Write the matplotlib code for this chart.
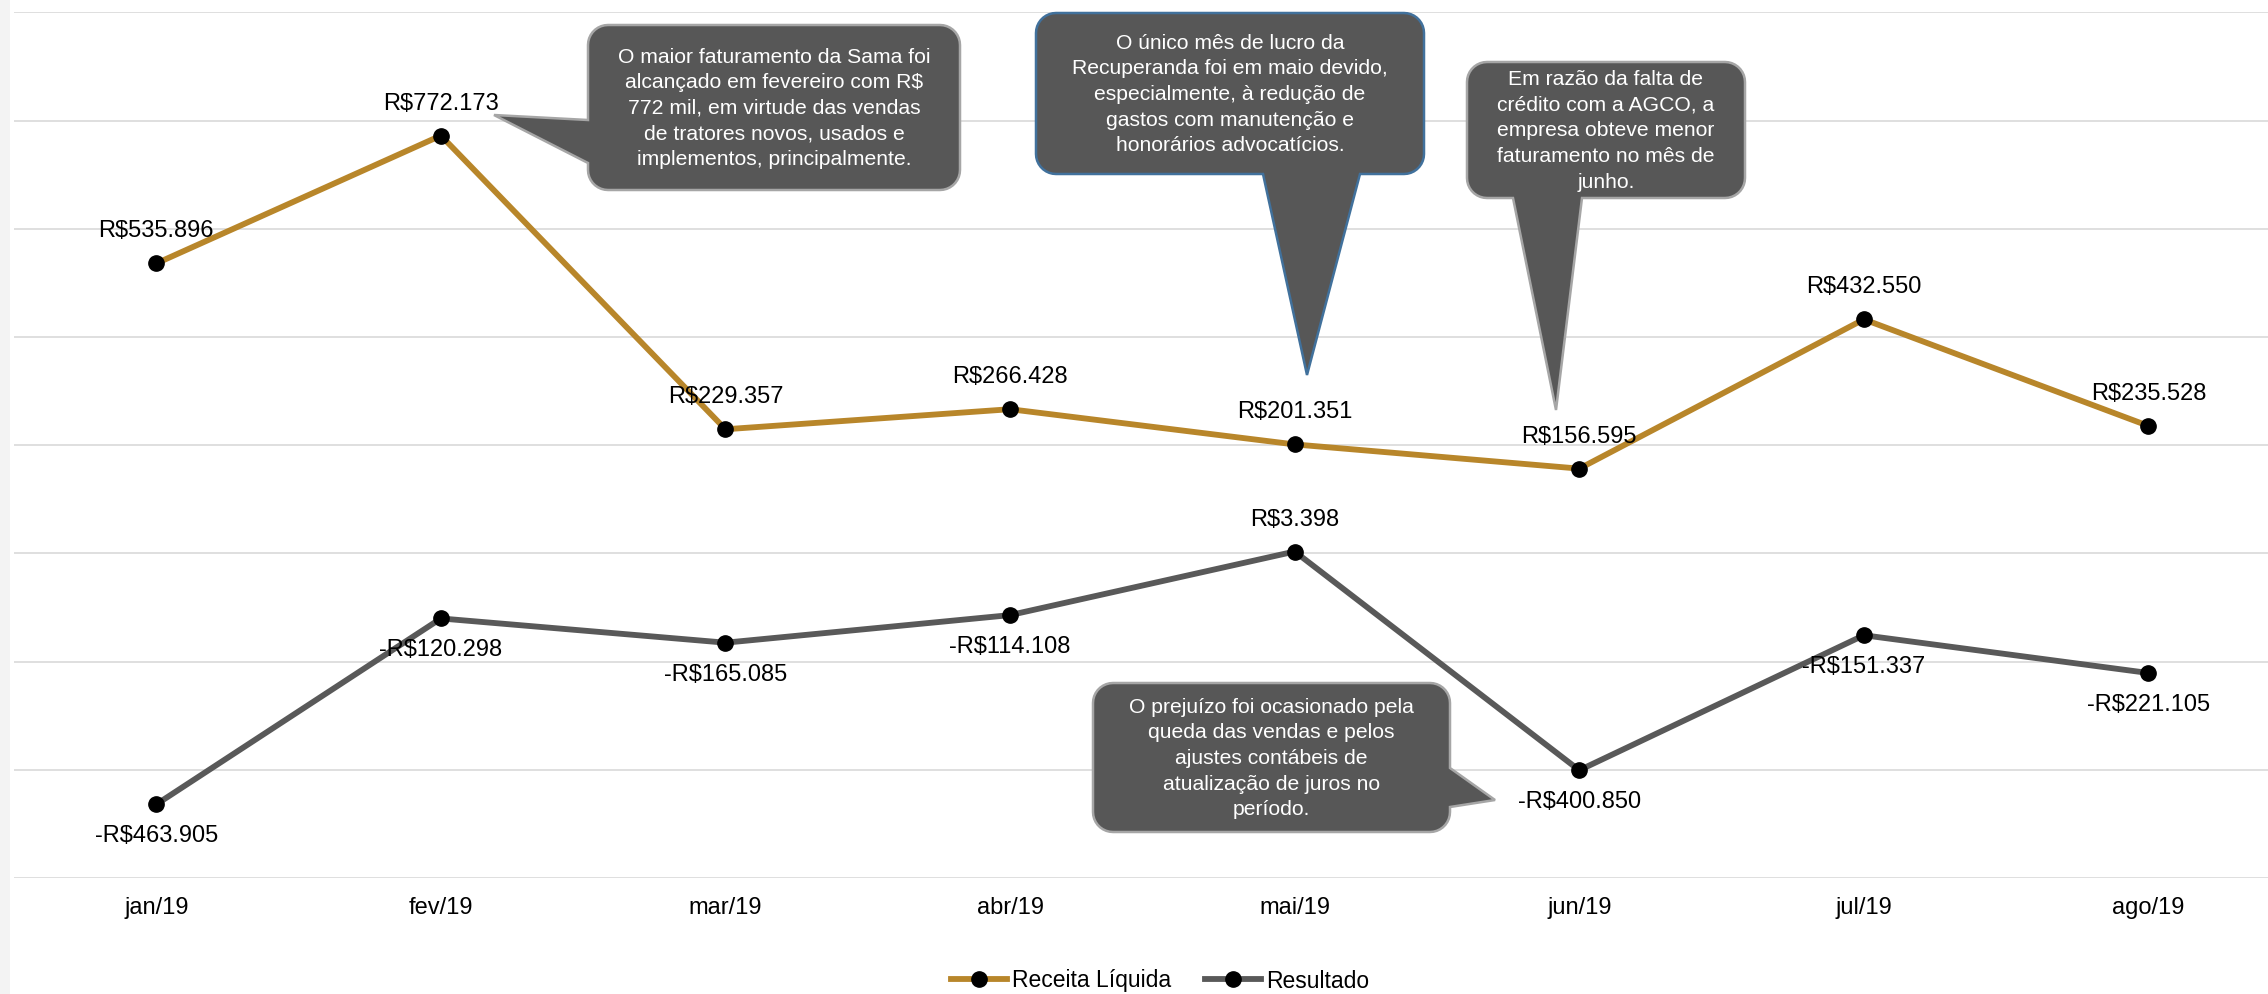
import numpy as np
import matplotlib
matplotlib.use("Agg")
import matplotlib.pyplot as plt
from matplotlib.patches import Polygon, Rectangle
from matplotlib.lines import Line2D
from matplotlib.transforms import Affine2D

plt.rcParams['font.family'] = ['Liberation Sans', 'DejaVu Sans']

# data
meses = ['jan/19', 'fev/19', 'mar/19', 'abr/19', 'mai/19', 'jun/19', 'jul/19', 'ago/19']
receita = [535896, 772173, 229357, 266428, 201351, 156595, 432550, 235528]
resultado = [-463905, -120298, -165085, -114108, 3398, -400850, -151337, -221105]

notas = [
    "O maior faturamento da Sama foi\nalcançado em fevereiro com R\\$\n772 mil, em virtude das vendas\nde tratores novos, usados e\nimplementos, principalmente.",
    "O único mês de lucro da\nRecuperanda foi em maio devido,\nespecialmente, à redução de\ngastos com manutenção e\nhonorários advocatícios.",
    "Em razão da falta de\ncrédito com a AGCO, a\nempresa obteve menor\nfaturamento no mês de\njunho.",
    "O prejuízo foi ocasionado pela\nqueda das vendas e pelos\najustes contábeis de\natualização de juros no\nperíodo.",
]

cor_receita = '#B8862A'
cor_resultado = '#595959'

W, H = 2268, 994
fig = plt.figure(figsize=(W / 100, H / 100), dpi=100)
fig.patch.set_facecolor('white')

# pixel coords (origin top-left) -> figure
px = Affine2D().scale(1 / W, -1 / H).translate(0, 1) + fig.transFigure

fig.patches.append(Rectangle((0, 0), 10, H, transform=px, facecolor='#F3F3F3',
                             edgecolor='none', zorder=0))

ax = fig.add_axes([14 / W, 1 - 878 / H, 1 - 14 / W, (878 - 12.3) / H])
x = np.arange(len(meses))

ax.set_ylim(-600000, 1000000)
ax.set_xlim(-0.5, 7.42)
ax.set_yticks(np.arange(-600000, 1000001, 200000))
ax.set_yticklabels([])
ax.grid(axis='y', color='#D9D9D9', lw=1.2)
ax.set_axisbelow(True)
for s in ax.spines.values():
    s.set_visible(False)
ax.tick_params(axis='y', length=0)
ax.set_xticks(x)
ax.set_xticklabels(meses, fontsize=17)
ax.tick_params(axis='x', length=0, pad=14)

ax.plot(x, receita, color=cor_receita, lw=4.2, marker='o', ms=11,
        mfc='black', mec='black', zorder=3)
ax.plot(x, resultado, color=cor_resultado, lw=4.2, marker='o', ms=11,
        mfc='black', mec='black', zorder=3)


def fmt(v):
    s = f"{abs(v):,}".replace(",", ".")
    return ("-" if v < 0 else "") + "R\\$" + s


for i, v in enumerate(receita):
    ax.annotate(fmt(v), (x[i], v), xytext=(0, 23), textcoords='offset points',
                ha='center', va='center', fontsize=17, zorder=4)
for i, v in enumerate(resultado):
    dy = 23 if v >= 0 else -23
    ax.annotate(fmt(v), (x[i], v), xytext=(0, dy), textcoords='offset points',
                ha='center', va='center', fontsize=17, zorder=4)


def balao(x0, y0, x1, y1, lado, a, b, ponta, r=20):
    # rounded box with a pointer, pixel coords
    pts = []
    def arco(cx, cy, t0, t1):
        for t in np.linspace(t0, t1, 10):
            pts.append((cx + r * np.cos(t), cy + r * np.sin(t)))
    arco(x0 + r, y0 + r, np.pi, 1.5 * np.pi)
    arco(x1 - r, y0 + r, 1.5 * np.pi, 2 * np.pi)
    if lado == 'right':
        pts += [(x1, a), ponta, (x1, b)]
    arco(x1 - r, y1 - r, 0, 0.5 * np.pi)
    if lado == 'bottom':
        pts += [(b, y1), ponta, (a, y1)]
    arco(x0 + r, y1 - r, 0.5 * np.pi, np.pi)
    if lado == 'left':
        pts += [(x0, b), ponta, (x0, a)]
    return pts


baloes = [
    (588, 25, 960, 190, 'left', 120, 163, (494, 115), '#A6A6A6'),
    (1036, 13, 1424, 174, 'bottom', 1263, 1360, (1307, 375), '#41719C'),
    (1467, 62, 1745, 198, 'bottom', 1513, 1582, (1556, 410), '#A6A6A6'),
    (1093, 683, 1450, 832, 'right', 768, 807, (1495, 800), '#A6A6A6'),
]
for (x0, y0, x1, y1, lado, a, b, ponta, borda), txt in zip(baloes, notas):
    p = Polygon(balao(x0, y0, x1, y1, lado, a, b, ponta), closed=True,
                transform=px, facecolor='#575757', edgecolor=borda, lw=1.8,
                zorder=5)
    fig.patches.append(p)
    fig.text((x0 + x1) / 2, (y0 + y1) / 2 + 1, txt, transform=px, ha='center',
             va='center', color='white', fontsize=15.2, linespacing=1.44,
             zorder=6)

handles = [
    Line2D([], [], color=cor_receita, lw=4.2, marker='o', ms=11, mfc='black', mec='black'),
    Line2D([], [], color=cor_resultado, lw=4.2, marker='o', ms=11, mfc='black', mec='black'),
]
fig.legend(handles, ['Receita Líquida', 'Resultado'], loc='center',
           bbox_to_anchor=(1160 / W, 1 - 981 / H), ncol=2, frameon=False,
           fontsize=16.5, handlelength=2.45, handletextpad=0.22,
           columnspacing=1.5, borderpad=0)

fig.savefig('out.png', dpi=100)
